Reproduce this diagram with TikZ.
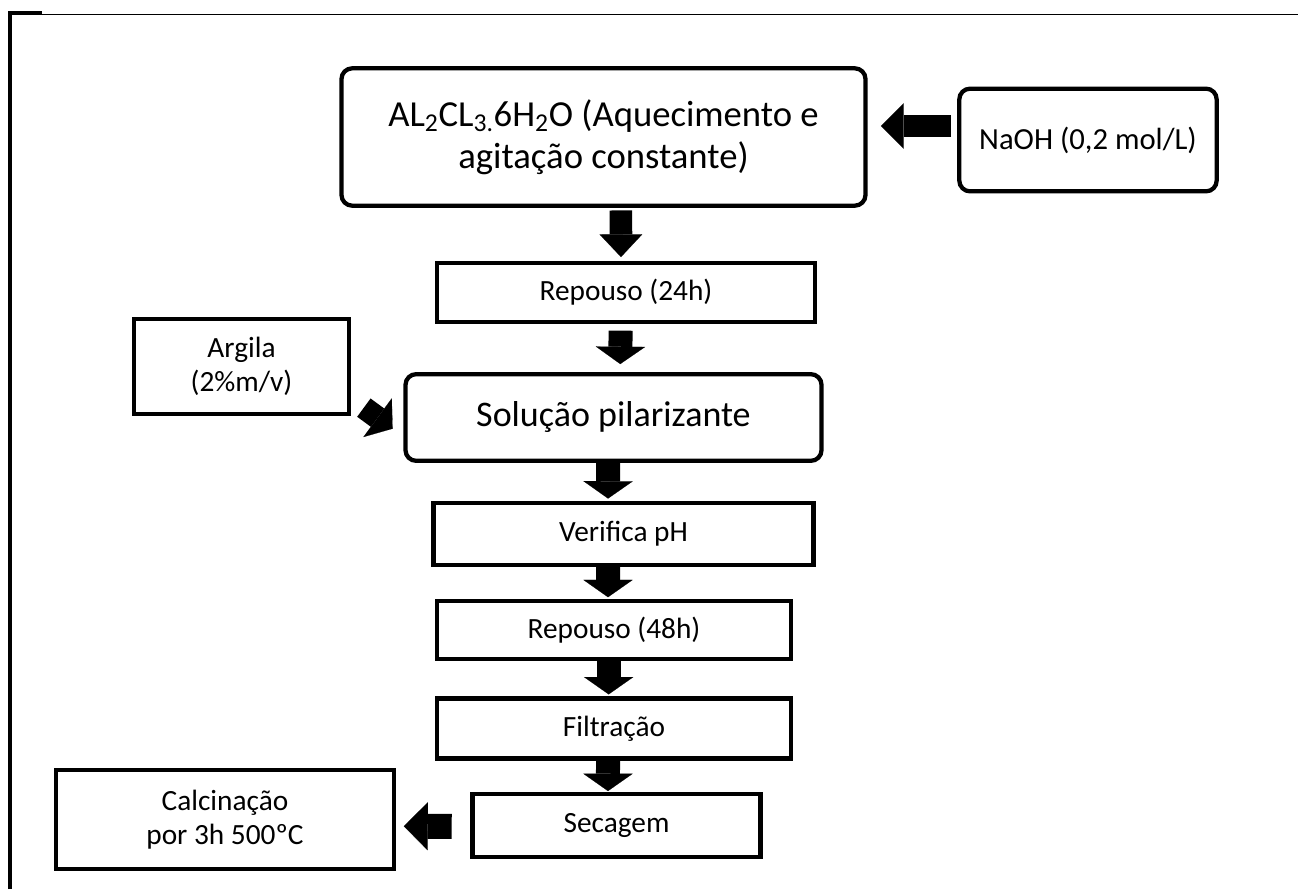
\documentclass[tikz,border=0pt]{standalone}
\usepackage{fontspec}
\setmainfont{Carlito}
\usetikzlibrary{arrows.meta,calc}

\begin{document}
\begin{tikzpicture}[
    x=0.75pt, y=-0.75pt,
    box/.style={draw, line width=3.2pt, align=center, inner sep=0pt, font=\fontsize{22pt}{26pt}\selectfont},
    rbox/.style={box, rounded corners=8pt},
    bigtxt/.style={font=\fontsize{27.5pt}{31.5pt}\selectfont},
    bigarrow/.style={line width=18pt, -{Triangle[width=37pt,length=13pt,line width=0.1pt]}},
    sidearrow/.style={line width=17pt, -{Triangle[width=34pt,length=17pt,line width=0.1pt]}}
]
\useasboundingbox (0,0) rectangle (1298,889);

% moldura
\draw[line width=3pt] (10,889) -- (10,12.5) -- (42,12.5);
\draw[line width=1.1pt] (42,14.5) -- (1298,14.5);

% caixas
\node[rbox, bigtxt, minimum width=393pt, minimum height=103pt] (sal) at (603.5,137) {AL\textsubscript{2}CL\textsubscript{3.}6H\textsubscript{2}O (Aquecimento e\\agitação constante)};
\node[rbox, minimum width=193pt, minimum height=77pt, font=\fontsize{23pt}{27pt}\selectfont] (naoh) at (1088,140) {NaOH (0,2 mol/L)};
\node[box, minimum width=284pt, minimum height=44pt] (rep24) at (626,292.5) {Repouso (24h)};
\node[box, minimum width=161pt, minimum height=71pt] (arg) at (241.5,366.5) {Argila\\(2\%m/v)};
\node[rbox, font=\fontsize{27pt}{31pt}\selectfont, minimum width=312pt, minimum height=65pt] (sol) at (613.5,417.5) {Solução pilarizante};
\node[box, minimum width=285pt, minimum height=46pt] (ph) at (623.5,534) {Verifica pH};
\node[box, minimum width=266pt, minimum height=43pt] (rep48) at (614,630) {Repouso (48h)};
\node[box, minimum width=266pt, minimum height=45pt] (filt) at (614,728.5) {Filtração};
\node[box, minimum width=216pt, minimum height=47pt] (sec) at (616.5,825.5) {Secagem};
\node[box, minimum width=253pt, minimum height=74pt] (calc) at (225,819.5) {Calcinação\\por 3h 500ºC};

% setas
\draw[sidearrow, shorten <=4.5pt, shorten >=10pt] ([yshift=10.5pt]naoh.west) -- ([yshift=8.25pt]sal.east);
\draw[sidearrow, line width=17pt, -{Triangle[width=32pt,length=17pt,line width=0.1pt]}, shorten <=2pt, shorten >=3pt] ([xshift=13pt]sal.south) -- ([xshift=-3.75pt]rep24.north);
\draw[bigarrow, shorten <=5pt, shorten >=6pt] ([xshift=-4pt]rep24.south) -- ([xshift=5pt]sol.north);
\draw[bigarrow, line width=17pt, -{Triangle[width=36pt,length=14pt,line width=0.1pt]}, shorten <=12pt, shorten >=10pt] ($(arg.north east)!0.82!(arg.south east)$) -- ($(sol.north west)!0.71!(sol.south west)$);
\draw[bigarrow, shorten >=2pt] ([xshift=-4pt]sol.south) -- ([xshift=-11.6pt]ph.north);
\draw[bigarrow, shorten >=1.5pt] ([xshift=-11.6pt]ph.south) -- ([xshift=-4.5pt]rep48.north);
\draw[bigarrow, shorten >=1.5pt] ([xshift=-4pt]rep48.south) -- ([xshift=-4pt]filt.north);
\draw[bigarrow, shorten >=0.75pt] ([xshift=-4.5pt]filt.south) -- ([xshift=-6.4pt]sec.north);
\draw[bigarrow, line width=18.75pt, -{Triangle[width=36pt,length=18pt,line width=0.1pt]}, shorten <=14pt, shorten >=6pt] ([yshift=-0.75pt]sec.west) -- ([yshift=-5pt]calc.east);
\end{tikzpicture}
\end{document}
